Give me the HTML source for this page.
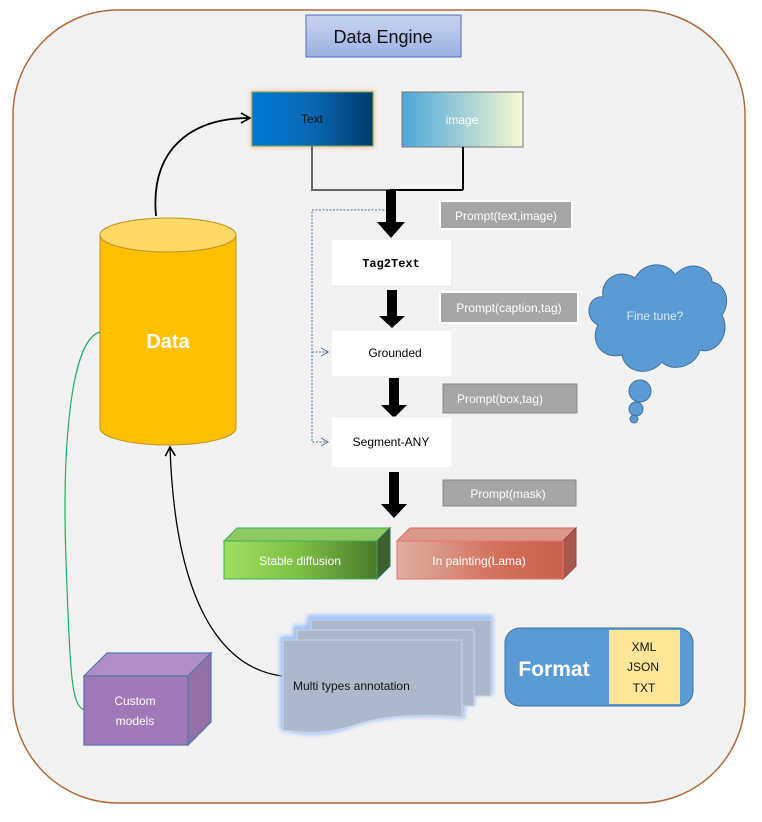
<!DOCTYPE html>
<html><head><meta charset="utf-8"><style>
html,body{margin:0;padding:0;background:#fff;}
svg{display:block;font-family:"Liberation Sans","DejaVu Sans",sans-serif;}
</style></head><body>
<svg width="762" height="822" viewBox="0 0 762 822" xmlns="http://www.w3.org/2000/svg">
<defs>
<linearGradient id="gT" x1="0" x2="1"><stop offset="0" stop-color="#0078d4"/><stop offset="0.45" stop-color="#0a6ab8"/><stop offset="1" stop-color="#003c6c"/></linearGradient>
<linearGradient id="gI" x1="0" x2="1"><stop offset="0" stop-color="#4aa6da"/><stop offset="1" stop-color="#f8f8d2"/></linearGradient>
<linearGradient id="gTitle" x1="0" y1="0" x2="0" y2="1"><stop offset="0" stop-color="#c8d4f0"/><stop offset="1" stop-color="#9cb0e2"/></linearGradient>
<linearGradient id="gS" x1="0" x2="1"><stop offset="0" stop-color="#a0e060"/><stop offset="0.5" stop-color="#7cbf44"/><stop offset="1" stop-color="#4a7a2a"/></linearGradient>
<linearGradient id="gP" x1="0" x2="1"><stop offset="0" stop-color="#dcb0a0"/><stop offset="0.6" stop-color="#d4705c"/><stop offset="1" stop-color="#c8604c"/></linearGradient>
<marker id="ah" markerWidth="12" markerHeight="12" refX="10" refY="6" orient="auto" markerUnits="userSpaceOnUse"><path d="M1,1 L10,6 L1,11" fill="none" stroke="#000" stroke-width="1.6"/></marker>
<marker id="ad" markerWidth="12" markerHeight="12" refX="10" refY="6" orient="auto" markerUnits="userSpaceOnUse"><path d="M1,1 L10,6 L1,11" fill="none" stroke="#4a70a0" stroke-width="1"/></marker>
<filter id="glow" x="-10%" y="-10%" width="120%" height="120%"><feGaussianBlur stdDeviation="2"/></filter>
</defs>
<rect x="13" y="10" width="732" height="793" rx="105" fill="#f2f2f2" stroke="#b06a3a" stroke-width="1.5"/>
<rect x="306" y="15" width="155" height="42" fill="url(#gTitle)" stroke="#4a6fc0"/>
<text x="383" y="43" font-size="18" text-anchor="middle" fill="#111">Data Engine</text>
<!-- Text & image -->
<rect x="250" y="90" width="125" height="58" fill="#f8c8a8" filter="url(#glow)"/>
<rect x="252" y="92" width="121" height="54" fill="url(#gT)" stroke="#6aa84f" stroke-width="1"/>
<text x="312" y="123" font-size="12" text-anchor="middle" fill="#111">Text</text>
<rect x="402" y="92" width="121" height="55" fill="url(#gI)" stroke="#777"/>
<text x="462" y="124" font-size="12" text-anchor="middle" fill="#fff">image</text>
<path d="M312,146 V190 H463 M463,147 V190" fill="none" stroke="#000" stroke-width="2"/>
<path d="M312,146 V190 H390" fill="none" stroke="#666" stroke-width="2"/>
<!-- dotted -->
<path d="M391,210 H312 V442 H328 M312,352 H328" fill="none" stroke="#4a70a0" stroke-width="1" stroke-dasharray="2,1.5"/>
<path d="M321,348 L328,352 L321,356 M321,438 L328,442 L321,446" fill="none" stroke="#4a70a0" stroke-width="1"/>
<!-- thick arrows -->
<g fill="#000">
<path d="M386,190 H396 V222 H405 L391,238 L377,222 H386 Z"/>
<path d="M387,290 H397 V316 H405 L392,328 L379,316 H387 Z"/>
<path d="M389,378 H399 V405 H407 L394,418 L381,405 H389 Z"/>
<path d="M389,472 H399 V504 H407 L394,518 L381,504 H389 Z"/>
</g>
<!-- boxes -->
<rect x="331" y="239" width="121" height="47" fill="#fff" stroke="#e4e8ec"/>
<text x="391" y="267" font-size="12" font-weight="bold" text-anchor="middle" fill="#000" font-family="Liberation Mono, monospace">Tag2Text</text>
<rect x="331" y="330" width="121" height="47" fill="#fff" stroke="#eee"/>
<text x="395" y="357" font-size="12" text-anchor="middle" fill="#000">Grounded</text>
<rect x="331" y="417" width="121" height="51" fill="#fff" stroke="#eee"/>
<text x="391" y="446" font-size="12" text-anchor="middle" fill="#000">Segment-ANY</text>
<!-- prompts -->
<rect x="440" y="201" width="132" height="28" fill="#a6a6a6" stroke="#fff" stroke-width="2"/>
<text x="506" y="220" font-size="12" text-anchor="middle" fill="#fff">Prompt(text,image)</text>
<rect x="440" y="292" width="138" height="31" fill="#a6a6a6" stroke="#fff" stroke-width="2"/>
<text x="509" y="312" font-size="12" text-anchor="middle" fill="#fff">Prompt(caption,tag)</text>
<rect x="443" y="384" width="134" height="29" fill="#a6a6a6" stroke="#888"/>
<text x="500" y="403" font-size="12" text-anchor="middle" fill="#fff">Prompt(box,tag)</text>
<rect x="443" y="480" width="133" height="26" fill="#a6a6a6" stroke="#888"/>
<text x="508" y="498" font-size="12" text-anchor="middle" fill="#fff">Prompt(mask)</text>
<!-- 3D boxes -->
<path d="M224,541 L237,528 H390 L377,541 Z" fill="#8ec860" stroke="#3fae5a"/>
<path d="M377,541 L390,528 V566 L377,579 Z" fill="#3f6028" stroke="#2e7060"/>
<rect x="224" y="541" width="153" height="38" fill="url(#gS)" stroke="#3fae5a"/>
<text x="300" y="565" font-size="12" text-anchor="middle" fill="#fff">Stable diffusion</text>
<path d="M397,541 L410,528 H576 L563,541 Z" fill="#d89888" stroke="#e06060"/>
<path d="M563,541 L576,528 V566 L563,579 Z" fill="#a85848" stroke="#a04040"/>
<rect x="397" y="541" width="166" height="38" fill="url(#gP)" stroke="#f07070"/>
<text x="479" y="565" font-size="12" text-anchor="middle" fill="#fff">In painting(Lama)</text>
<!-- cylinder -->
<path d="M100,235 V428 A68,17 0 0 0 236,428 V235" fill="#ffc000" stroke="#c09020"/>
<ellipse cx="168" cy="235" rx="68" ry="17" fill="#ffd966" stroke="#c09020"/>
<text x="168" y="348" font-size="20" font-weight="bold" text-anchor="middle" fill="#fff">Data</text>
<path d="M156,216 C150,150 190,118 250,118" fill="none" stroke="#000" stroke-width="1.8" marker-end="url(#ah)"/>
<path d="M100,332 C70,340 62,450 66,560 C70,680 72,705 84,710" fill="none" stroke="#20b060" stroke-width="1.2"/>
<path d="M282,676 C220,668 175,600 170,447" fill="none" stroke="#000" stroke-width="1.3" marker-end="url(#ah)"/>
<!-- cloud -->
<g fill="#5b9bd5" stroke="#41719c" stroke-width="1">
<path d="M622,355 C600,360 590,340 598,325 C583,318 588,295 603,297 C600,278 620,268 635,278 C645,260 668,262 675,275 C690,258 712,268 712,282 C728,285 730,305 722,315 C732,335 715,355 700,350 C695,368 670,372 662,362 C648,378 625,372 622,355 Z"/>
<circle cx="640" cy="391" r="11"/>
<circle cx="636" cy="409" r="7"/>
<circle cx="634" cy="419" r="4"/>
</g>
<text x="655" y="320" font-size="12" text-anchor="middle" fill="#dde8f5">Fine tune?</text>
<!-- custom models -->
<path d="M84,676 L107,653 H211 L188,676 Z" fill="#b08fc8" stroke="#5a78a8" stroke-width="1.3"/>
<path d="M188,676 L211,653 V722 L188,745 Z" fill="#9470a8" stroke="#5a78a8" stroke-width="1.3"/>
<rect x="84" y="676" width="104" height="69" fill="#a07ab8" stroke="#5a78a8" stroke-width="1.3"/>
<text x="135" y="705" font-size="12" text-anchor="middle" fill="#fff">Custom</text>
<text x="135" y="725" font-size="12" text-anchor="middle" fill="#fff">models</text>
<!-- multi docs -->
<g filter="url(#glow)" fill="#9ec0f8">
<rect x="307" y="615" width="186" height="80"/>
<rect x="293" y="625" width="182" height="80"/>
<path d="M280,636 H465 V719 C430,715 380,715 350,728 C320,738 300,735 280,730 Z"/>
</g>
<rect x="311" y="620" width="180" height="76" fill="#adb9ca" stroke="#c8d8ea"/>
<rect x="297" y="630" width="177" height="76" fill="#adb9ca" stroke="#c8d8ea"/>
<path d="M283,640 H462 V717 C430,714 385,714 355,725 C325,735 305,733 283,730 Z" fill="#adb9ca" stroke="#c8d8ea"/>
<text x="293" y="690" font-size="12" fill="#111">Multi types annotation</text>
<!-- format -->
<rect x="505" y="628" width="188" height="78" rx="15" fill="#5b9bd5" stroke="#41719c"/>
<rect x="609" y="630" width="71" height="74" fill="#ffe699"/>
<text x="554" y="676" font-size="21" font-weight="bold" text-anchor="middle" fill="#fff">Format</text>
<text x="644" y="651" font-size="12" text-anchor="middle" fill="#111">XML</text>
<text x="643" y="671" font-size="12" text-anchor="middle" fill="#111">JSON</text>
<text x="644" y="692" font-size="12" text-anchor="middle" fill="#111">TXT</text>
</svg>
</body></html>
